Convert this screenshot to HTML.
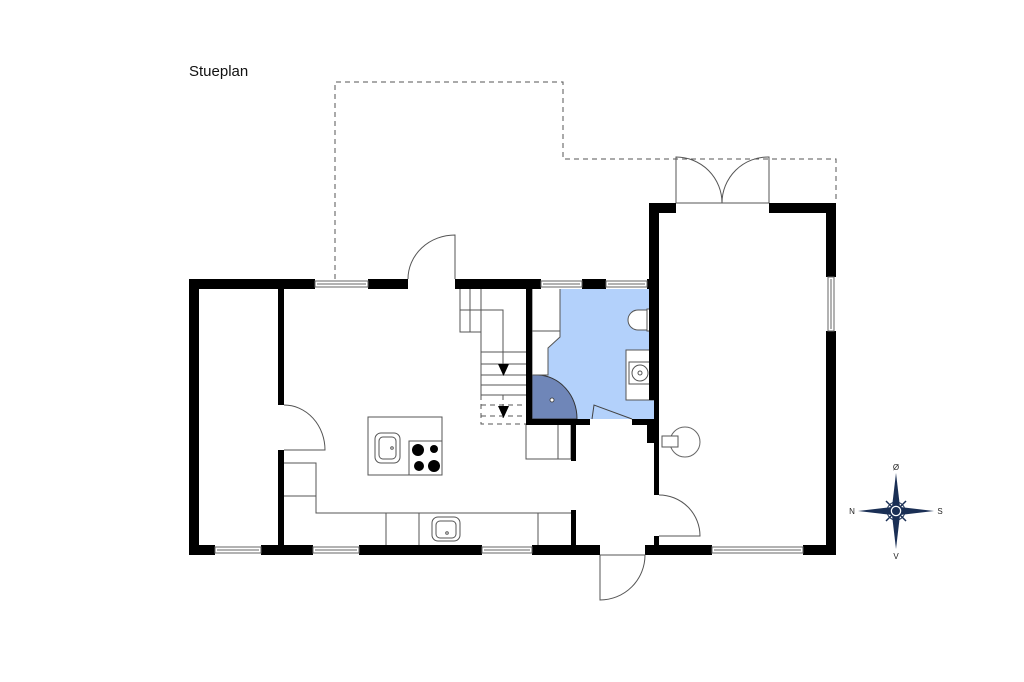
<!DOCTYPE html>
<html><head><meta charset="utf-8"><style>html,body{margin:0;padding:0;background:#fff}svg{display:block}</style></head>
<body>
<svg width="1024" height="682" viewBox="0 0 1024 682" xmlns="http://www.w3.org/2000/svg">
<rect width="1024" height="682" fill="#fff"/>
<text x="189" y="76" font-family="Liberation Sans, sans-serif" font-size="15" fill="#111">Stueplan</text>
<path d="M335 279 V82 H563 V159 H836 V203" fill="none" stroke="#555" stroke-width="1" stroke-dasharray="5,4"/>
<rect x="532" y="289" width="122" height="130" fill="#b3d1fb"/>
<path d="M532 375 H538 A40 44 0 0 1 577 419 H532 Z" fill="#6f86b8" stroke="#333" stroke-width="1"/>
<circle cx="552" cy="400" r="2" fill="#fff" stroke="#333" stroke-width="0.8"/>
<path d="M532 289 V375 H548 V348 L560 337 V289" fill="#fff" stroke="#555" stroke-width="1"/>
<line x1="532" y1="331" x2="560" y2="331" stroke="#555"/>
<path d="M647 310 H638 A10 10 0 0 0 638 330 H647 Z" fill="#fff" stroke="#555"/>
<rect x="647" y="309" width="7" height="22" fill="#fff" stroke="#555"/>
<rect x="626" y="350" width="28" height="50" fill="#fff" stroke="#555"/>
<rect x="629" y="362" width="22" height="22" fill="#fff" stroke="#555"/>
<circle cx="640" cy="373" r="8" fill="none" stroke="#555"/>
<circle cx="640" cy="373" r="2" fill="none" stroke="#555"/>
<path d="M592 419 L594 405 L632 419" fill="none" stroke="#444"/>
<g stroke="#555" fill="none" stroke-width="1">
<path d="M460 289 V332 H481 V289 M470 289 V332 M460 310 H503 V375 M481 332 V395 H526 M481 352 H526 M481 364 H526 M481 375 H526 M481 385 H526"/>
<path d="M481 405 H526 M481 416 H526 M481 395 V424 H526 M503 395 V420" stroke-dasharray="5,4"/>
</g>
<polygon points="498,364 509,364 503.5,376" fill="#000"/>
<polygon points="498,406 509,406 503.5,418" fill="#000"/>
<rect x="526" y="424" width="45" height="35" fill="#fff" stroke="#555"/>
<line x1="558" y1="424" x2="558" y2="459" stroke="#555"/>
<rect x="368" y="417" width="74" height="58" fill="#fff" stroke="#555"/>
<rect x="409" y="441" width="33" height="34" fill="#fff" stroke="#555"/>
<circle cx="418" cy="450" r="6" fill="#000"/><circle cx="434" cy="449" r="4" fill="#000"/>
<circle cx="419" cy="466" r="5" fill="#000"/><circle cx="434" cy="466" r="6" fill="#000"/>
<rect x="375" y="433" width="25" height="30" rx="6" fill="#fff" stroke="#555"/>
<rect x="379" y="437" width="17" height="22" rx="4" fill="#fff" stroke="#555"/>
<circle cx="392" cy="448" r="1.3" fill="none" stroke="#555"/>
<path d="M284 463 H316 V513 H572 M284 496 H316 M386 513 V545 M419 513 V545 M538 513 V545" fill="none" stroke="#555"/>
<rect x="432" y="517" width="28" height="24" rx="6" fill="#fff" stroke="#555"/>
<rect x="436" y="521" width="20" height="17" rx="4" fill="#fff" stroke="#555"/>
<circle cx="447" cy="533" r="1.3" fill="none" stroke="#555"/>
<circle cx="685" cy="442" r="15" fill="#fff" stroke="#666"/>
<rect x="662" y="436" width="16" height="11" fill="#fff" stroke="#555"/>
<g fill="#000">
<rect x="189" y="279" width="126" height="10"/>
<rect x="368" y="279" width="40" height="10"/>
<rect x="455" y="279" width="86" height="10"/>
<rect x="582" y="279" width="24" height="10"/>
<rect x="647" y="279" width="12" height="10"/>
<rect x="189" y="279" width="10" height="276"/>
<rect x="189" y="545" width="26" height="10"/>
<rect x="261" y="545" width="52" height="10"/>
<rect x="359" y="545" width="123" height="10"/>
<rect x="532" y="545" width="68" height="10"/>
<rect x="645" y="545" width="67" height="10"/>
<rect x="803" y="545" width="33" height="10"/>
<rect x="649" y="203" width="27" height="10"/>
<rect x="769" y="203" width="67" height="10"/>
<rect x="649" y="203" width="10" height="197"/>
<rect x="654" y="400" width="5" height="95"/>
<rect x="647" y="420" width="8" height="23"/>
<rect x="632" y="419" width="22" height="6"/>
<rect x="654" y="536" width="5" height="10"/>
<rect x="826" y="203" width="10" height="74"/>
<rect x="826" y="331" width="10" height="224"/>
<rect x="278" y="289" width="6" height="116"/>
<rect x="278" y="450" width="6" height="95"/>
<rect x="526" y="289" width="6" height="135"/>
<rect x="526" y="419" width="64" height="6"/>
<rect x="571" y="424" width="5" height="37"/>
<rect x="571" y="510" width="5" height="35"/>
</g>
<g fill="#fff" stroke="#666" stroke-width="1">
<rect x="315" y="281" width="53" height="6"/><line x1="317" y1="284" x2="366" y2="284"/>
<rect x="541" y="281" width="41" height="6"/><line x1="543" y1="284" x2="580" y2="284"/>
<rect x="606" y="281" width="41" height="6"/><line x1="608" y1="284" x2="645" y2="284"/>
<rect x="215" y="547" width="46" height="6"/><line x1="217" y1="550" x2="259" y2="550"/>
<rect x="313" y="547" width="46" height="6"/><line x1="315" y1="550" x2="357" y2="550"/>
<rect x="482" y="547" width="50" height="6"/><line x1="484" y1="550" x2="530" y2="550"/>
<rect x="712" y="547" width="91" height="6"/><line x1="714" y1="550" x2="801" y2="550"/>
<rect x="828" y="277" width="6" height="54"/><line x1="831" y1="279" x2="831" y2="329"/>
</g>
<g fill="none" stroke="#555" stroke-width="1">
<path d="M455 279 V235 A47 44 0 0 0 408 279"/>
<path d="M284 405 A41 45 0 0 1 325 450 H284"/>
<path d="M600 555 V600 A45 45 0 0 0 645 555 H600"/>
<path d="M659 495 A41 41 0 0 1 700 536 H659"/>
<path d="M676 203 V157 A46 46 0 0 1 722 203 A46 46 0 0 1 769 157 V203 M676 203 H769"/>
</g>
<g transform="translate(896,511)">
<g stroke="#1a2f55" stroke-width="1.5"><line x1="-10" y1="-10" x2="10" y2="10"/><line x1="-10" y1="10" x2="10" y2="-10"/></g>
<circle r="9" fill="none" stroke="#1a2f55" stroke-width="1"/>
<polygon points="0,-38 4,-4 0,0 -4,-4" fill="#1a2f55"/>
<polygon points="0,38 4,4 0,0 -4,4" fill="#1a2f55"/>
<polygon points="-38,0 -4,-4 0,0 -4,4" fill="#1a2f55"/>
<polygon points="38,0 4,-4 0,0 4,4" fill="#1a2f55"/>
<circle r="6" fill="#fff" stroke="#1a2f55" stroke-width="1.5"/>
<circle r="4" fill="#1a2f55"/>
<g font-family="Liberation Sans, sans-serif" font-size="8" fill="#222" text-anchor="middle">
<text x="0" y="-41">Ø</text><text x="0" y="48">V</text><text x="-44" y="3">N</text><text x="44" y="3">S</text>
</g>
</g>
</svg>
</body></html>
